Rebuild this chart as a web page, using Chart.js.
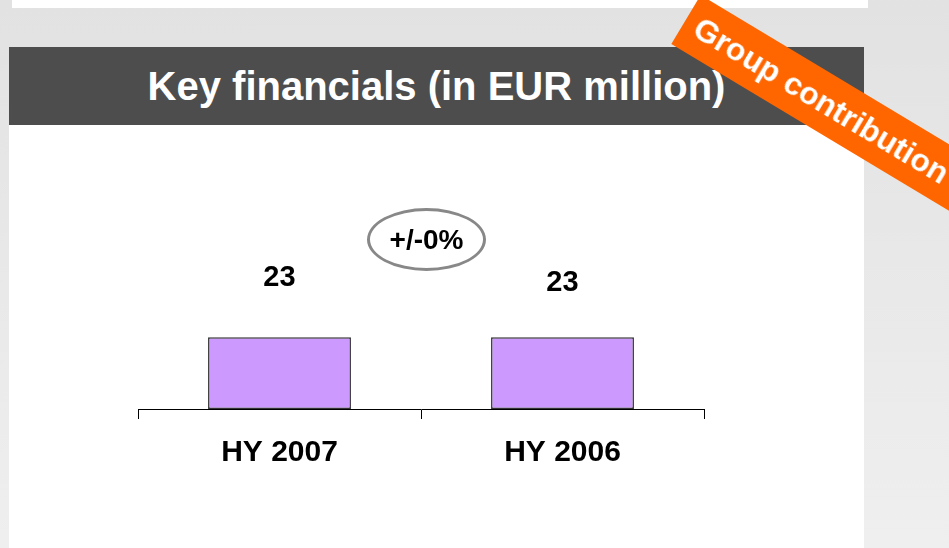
<!DOCTYPE html>
<html>
<head>
<meta charset="utf-8">
<script src="https://cdn.jsdelivr.net/npm/chart.js@4.4.1/dist/chart.umd.min.js"></script>
<style>
  html, body { margin: 0; padding: 0; }
  body {
    width: 949px; height: 548px; overflow: hidden; position: relative;
    background: linear-gradient(#e2e2e2, #efefef);
    font-family: "Liberation Sans", Arial, sans-serif;
  }
  .strip { position: absolute; left: 12px; top: 0; width: 856px; height: 8px; background: #fff; }
  .header {
    position: absolute; left: 9px; top: 47px; width: 855px; height: 78px;
    background: #4d4d4d; color: #fff; font-weight: bold; font-size: 40px;
    line-height: 78px; text-align: center;
  }
  .panel { position: absolute; left: 9px; top: 125px; width: 855px; height: 423px; background: #fff; }
  .change {
    position: absolute; left: 367px; top: 208px; width: 113px; height: 57px;
    border: 3px solid #888; border-radius: 50%;
    font-weight: bold; font-size: 28px; line-height: 57px; text-align: center; color: #000;
  }
  .banner {
    position: absolute; left: 686px; top: -9px; width: 420px; height: 57px;
    background: #ff6600; color: #fff; font-weight: bold; font-size: 32px;
    line-height: 57px; padding-left: 12px; box-sizing: border-box;
    transform-origin: 0 50%; transform: rotate(31deg);
  }
  #chart { position: absolute; left: 0; top: 0; }
</style>
</head>
<body>
<div class="strip"></div>
<div class="panel"></div>
<div class="header">Key financials (in EUR million)</div>
<canvas id="chart" width="949" height="548"></canvas>
<div class="change">+/-0%</div>
<div class="banner">Group contribution</div>
<script>
const categories = ['HY 2007', 'HY 2006'];
const values = [23, 23];

// value labels above the bars
const valueLabels = {
  id: 'valueLabels',
  afterDatasetsDraw(chart, args, opts) {
    const { ctx } = chart;
    const meta = chart.getDatasetMeta(0);
    ctx.save();
    ctx.font = 'bold 29px "Liberation Sans", Arial, sans-serif';
    ctx.fillStyle = '#000';
    ctx.textAlign = 'center';
    ctx.textBaseline = 'middle';
    meta.data.forEach((bar, i) => {
      ctx.fillText(String(values[i]), bar.x, bar.y - opts.offsets[i]);
    });
    ctx.restore();
  }
};

new Chart(document.getElementById('chart'), {
  type: 'bar',
  data: {
    labels: categories,
    datasets: [{
      data: values,
      backgroundColor: '#cc99ff',
      borderColor: '#333333',
      borderWidth: 1.5,
      borderSkipped: false,
      barPercentage: 0.505,
      categoryPercentage: 1
    }]
  },
  options: {
    responsive: false,
    animation: false,
    layout: { padding: { left: 138, right: 245, top: 150, bottom: 61 } },
    plugins: {
      legend: { display: false },
      tooltip: { enabled: false },
      valueLabels: { offsets: [59, 54] }
    },
    scales: {
      x: {
        grid: { display: true, drawOnChartArea: false, color: '#000', tickLength: 10, lineWidth: 1 },
        border: { display: true, color: '#000', width: 1 },
        ticks: {
          color: '#000',
          padding: 16,
          font: { family: '"Liberation Sans", Arial, sans-serif', size: 30, weight: 'bold' }
        }
      },
      y: { display: false, min: 0, max: 83 }
    }
  },
  plugins: [valueLabels]
});
</script>
</body>
</html>
